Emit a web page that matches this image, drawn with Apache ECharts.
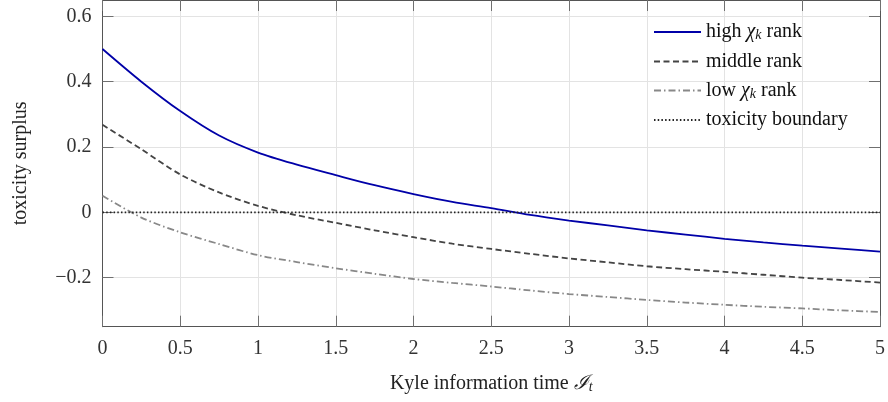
<!DOCTYPE html>
<html>
<head>
<meta charset="utf-8">
<script src="https://cdn.jsdelivr.net/npm/echarts@6/dist/echarts.min.js"></script>
<style>
    html, body { margin: 0; padding: 0; background: #fff; }
    #main { width: 888px; height: 402px; }
</style>
</head>
<body>
<div id="main"></div>
<script>
    // Kyle information time (x), every 0.25
    var xs = [0, 0.25, 0.5, 0.75, 1, 1.25, 1.5, 1.75, 2, 2.25, 2.5,
              2.75, 3, 3.25, 3.5, 3.75, 4, 4.25, 4.5, 4.75, 5];
    // toxicity surplus
    var highRank   = [0.50, 0.40, 0.31, 0.235, 0.183, 0.146, 0.114, 0.083, 0.056, 0.032, 0.013,
                      -0.008, -0.025, -0.040, -0.055, -0.068, -0.081, -0.092, -0.102, -0.111, -0.120];
    var middleRank = [0.268, 0.193, 0.116, 0.061, 0.020, -0.009, -0.032, -0.055, -0.076, -0.096, -0.112,
                      -0.127, -0.141, -0.153, -0.165, -0.174, -0.182, -0.191, -0.200, -0.207, -0.215];
    var lowRank    = [0.051, -0.016, -0.061, -0.097, -0.131, -0.152, -0.171, -0.188, -0.204, -0.216, -0.227,
                      -0.239, -0.250, -0.259, -0.268, -0.276, -0.283, -0.289, -0.294, -0.300, -0.305];
    var boundaryX  = [0, 5];
    var boundaryY  = [0, 0];
    var yTicks = [-0.2, 0, 0.2, 0.4, 0.6];

    var serif = 'Liberation Serif';

    function pairs(x, y) {
        var out = [];
        for (var i = 0; i < x.length; i++) out.push([x[i], y[i]]);
        return out;
    }
    function fmt(v) {
        if (Math.abs(v) < 1e-9) return '0';
        var s = String(Math.round(v * 100) / 100);
        return s.replace('-', '\u2212');
    }

    var chart = echarts.init(document.getElementById('main'));

    function axisLine() { return { show: true, onZero: false, lineStyle: { color: '#555', width: 1 } }; }
    function tick(custom) {
        var t = { show: true, inside: true, length: 11, lineStyle: { color: '#707070', width: 1 } };
        if (custom) t.customValues = custom;
        return t;
    }
    var grid = { show: true, lineStyle: { color: '#e3e3e3', width: 1 } };

    chart.setOption({
        animation: false,
        grid: { left: 102.5, right: 6.5, top: -3, bottom: 75.3, containLabel: false },
        legend: {
            orient: 'vertical',
            left: 648, top: 17,
            itemWidth: 47, itemHeight: 14, itemGap: 9,
            itemStyle: { opacity: 0 },
            textStyle: {
                fontFamily: serif, fontSize: 20, color: '#111',
                rich: {
                    n: { fontFamily: serif, fontSize: 20, color: '#111' },
                    chi: { fontFamily: serif, fontSize: 20, fontStyle: 'italic', color: '#111' },
                    sub: { fontFamily: serif, fontSize: 14, fontStyle: 'italic', color: '#111',
                           verticalAlign: 'bottom', padding: [7, 0, 0, 0] }
                }
            },
            formatter: function (name) {
                if (name === 'high') return '{n|high }{chi|χ}{sub|k}{n| rank}';
                if (name === 'low') return '{n|low }{chi|χ}{sub|k}{n| rank}';
                return '{n|' + name + '}';
            },
            data: ['high', 'middle rank', 'low', 'toxicity boundary']
        },
        xAxis: [{
            type: 'value', min: 0, max: 5, interval: 0.5,
            name: '{n|Kyle information time }{s|ℐ}{sub|t}',
            nameLocation: 'middle', nameGap: 47,
            nameTextStyle: {
                rich: {
                    n: { fontFamily: serif, fontSize: 20, color: '#222' },
                    s: { fontFamily: serif, fontSize: 20, fontStyle: 'italic', color: '#222' },
                    sub: { fontFamily: serif, fontSize: 14, fontStyle: 'italic', color: '#222',
                           verticalAlign: 'bottom', padding: [7, 0, 0, 0] }
                }
            },
            axisLine: axisLine(), axisTick: tick(), splitLine: grid,
            axisLabel: { fontFamily: serif, fontSize: 20, color: '#333', margin: 12, formatter: fmt }
        }, {
            type: 'value', min: 0, max: 5, interval: 0.5, position: 'top',
            axisLine: axisLine(), axisTick: tick(), splitLine: { show: false },
            axisLabel: { show: false }
        }],
        yAxis: [{
            type: 'value', min: -0.35, max: 0.65,
            name: 'toxicity surplus', nameLocation: 'middle', nameGap: 72, nameRotate: 90,
            nameTextStyle: { fontFamily: serif, fontSize: 20, color: '#222' },
            axisLine: axisLine(), axisTick: tick(yTicks), splitLine: grid,
            axisLabel: { fontFamily: serif, fontSize: 20, color: '#333', margin: 11, formatter: fmt, customValues: yTicks }
        }, {
            type: 'value', min: -0.35, max: 0.65, position: 'right',
            axisLine: axisLine(), axisTick: tick(yTicks), splitLine: { show: false },
            axisLabel: { show: false, customValues: yTicks }
        }],
        series: [{
            name: 'high', type: 'line', smooth: 0.3, symbol: 'none',
            lineStyle: { color: '#0000a8', width: 1.8 },
            itemStyle: { color: '#0000a8' },
            data: pairs(xs, highRank)
        }, {
            name: 'middle rank', type: 'line', smooth: 0.3, symbol: 'none',
            lineStyle: { color: '#444', width: 1.8, type: [6, 3.5] },
            itemStyle: { color: '#444' },
            data: pairs(xs, middleRank)
        }, {
            name: 'low', type: 'line', smooth: 0.3, symbol: 'none',
            lineStyle: { color: '#888', width: 1.8, type: [7, 3, 1.5, 3] },
            itemStyle: { color: '#888' },
            data: pairs(xs, lowRank)
        }, {
            name: 'toxicity boundary', type: 'line', symbol: 'none',
            lineStyle: { color: '#222', width: 1.6, type: [1.5, 2.2] },
            itemStyle: { color: '#222' },
            data: pairs(boundaryX, boundaryY)
        }]
    });
</script>
</body>
</html>
